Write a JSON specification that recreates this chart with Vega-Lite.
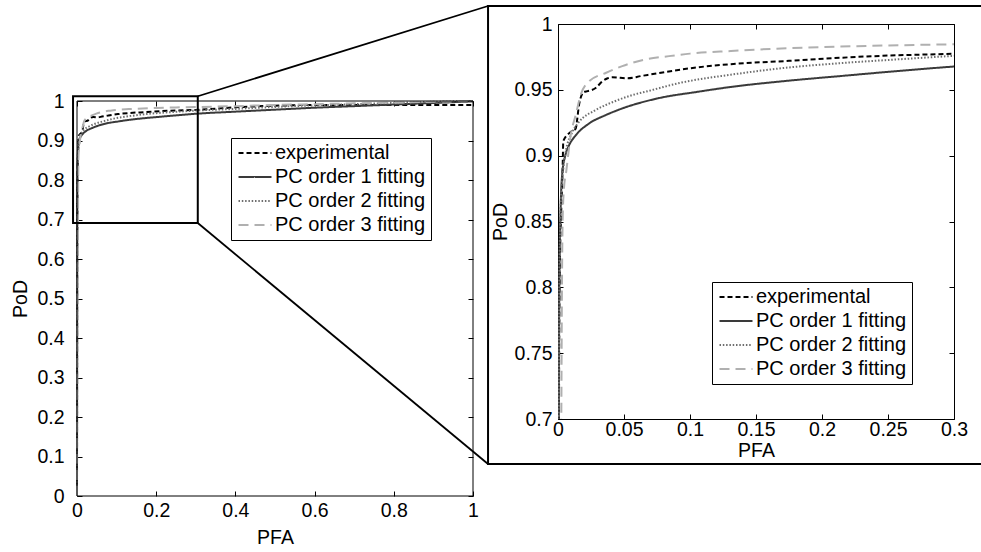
{
  "$schema": "https://vega.github.io/schema/vega-lite/v6.json",
  "background": "white",
  "padding": {"left": 10, "top": 4, "right": 0, "bottom": 0},
  "config": {
    "font": "Liberation Sans",
    "view": {"stroke": "black", "strokeWidth": 1},
    "axis": {
      "grid": false, "domain": false, "ticks": true, "tickColor": "black", "tickSize": -5, "tickWidth": 1,
      "labelColor": "black", "labelFontSize": 19.5, "labelFont": "Liberation Sans",
      "titleColor": "black", "titleFontSize": 19.5, "titleFont": "Liberation Sans", "titleFontWeight": "normal",
      "labelFlush": false, "labelOverlap": false
    },
    "legend": {
      "strokeColor": "black", "fillColor": "white", "padding": 5,
      "labelFontSize": 20, "labelFont": "Liberation Sans", "labelColor": "black",
      "symbolType": "M-2,0H2", "symbolSize": 272, "symbolStrokeWidth": 2,
      "rowPadding": 4, "labelOffset": 10, "symbolOffset": 9
    }
  },
  "datasets": {
    "roc": [
      {"series": "experimental", "PFA": 0, "PoD": 0},
      {"series": "experimental", "PFA": 0.0005, "PoD": 0.6},
      {"series": "experimental", "PFA": 0.0012, "PoD": 0.8},
      {"series": "experimental", "PFA": 0.0025, "PoD": 0.86},
      {"series": "experimental", "PFA": 0.0035, "PoD": 0.89},
      {"series": "experimental", "PFA": 0.004, "PoD": 0.911},
      {"series": "experimental", "PFA": 0.0096, "PoD": 0.918},
      {"series": "experimental", "PFA": 0.0134, "PoD": 0.9205},
      {"series": "experimental", "PFA": 0.0146, "PoD": 0.928},
      {"series": "experimental", "PFA": 0.0159, "PoD": 0.9385},
      {"series": "experimental", "PFA": 0.0197, "PoD": 0.9485},
      {"series": "experimental", "PFA": 0.0225, "PoD": 0.949},
      {"series": "experimental", "PFA": 0.0288, "PoD": 0.9516},
      {"series": "experimental", "PFA": 0.0336, "PoD": 0.9565},
      {"series": "experimental", "PFA": 0.0376, "PoD": 0.9588},
      {"series": "experimental", "PFA": 0.0412, "PoD": 0.9595},
      {"series": "experimental", "PFA": 0.0528, "PoD": 0.9588},
      {"series": "experimental", "PFA": 0.063, "PoD": 0.9605},
      {"series": "experimental", "PFA": 0.078, "PoD": 0.963},
      {"series": "experimental", "PFA": 0.1033, "PoD": 0.9668},
      {"series": "experimental", "PFA": 0.131, "PoD": 0.9695},
      {"series": "experimental", "PFA": 0.175, "PoD": 0.972},
      {"series": "experimental", "PFA": 0.2144, "PoD": 0.9744},
      {"series": "experimental", "PFA": 0.25, "PoD": 0.976},
      {"series": "experimental", "PFA": 0.3, "PoD": 0.9775},
      {"series": "experimental", "PFA": 0.4, "PoD": 0.984},
      {"series": "experimental", "PFA": 0.5, "PoD": 0.988},
      {"series": "experimental", "PFA": 0.6, "PoD": 0.99},
      {"series": "experimental", "PFA": 0.8, "PoD": 0.99},
      {"series": "experimental", "PFA": 1, "PoD": 0.99},

      {"series": "PC order 1 fitting", "PFA": 0, "PoD": 0},
      {"series": "PC order 1 fitting", "PFA": 0.0005, "PoD": 0.6},
      {"series": "PC order 1 fitting", "PFA": 0.001, "PoD": 0.8},
      {"series": "PC order 1 fitting", "PFA": 0.002, "PoD": 0.86},
      {"series": "PC order 1 fitting", "PFA": 0.0033, "PoD": 0.8872},
      {"series": "PC order 1 fitting", "PFA": 0.0055, "PoD": 0.9},
      {"series": "PC order 1 fitting", "PFA": 0.0083, "PoD": 0.9077},
      {"series": "PC order 1 fitting", "PFA": 0.0134, "PoD": 0.9154},
      {"series": "PC order 1 fitting", "PFA": 0.0235, "PoD": 0.9244},
      {"series": "PC order 1 fitting", "PFA": 0.0361, "PoD": 0.9308},
      {"series": "PC order 1 fitting", "PFA": 0.0477, "PoD": 0.9355},
      {"series": "PC order 1 fitting", "PFA": 0.0755, "PoD": 0.9435},
      {"series": "PC order 1 fitting", "PFA": 0.1058, "PoD": 0.9485},
      {"series": "PC order 1 fitting", "PFA": 0.131, "PoD": 0.9522},
      {"series": "PC order 1 fitting", "PFA": 0.17, "PoD": 0.9565},
      {"series": "PC order 1 fitting", "PFA": 0.2144, "PoD": 0.9605},
      {"series": "PC order 1 fitting", "PFA": 0.26, "PoD": 0.9645},
      {"series": "PC order 1 fitting", "PFA": 0.3, "PoD": 0.9677},
      {"series": "PC order 1 fitting", "PFA": 0.4, "PoD": 0.973},
      {"series": "PC order 1 fitting", "PFA": 0.5, "PoD": 0.978},
      {"series": "PC order 1 fitting", "PFA": 0.6, "PoD": 0.983},
      {"series": "PC order 1 fitting", "PFA": 0.7, "PoD": 0.987},
      {"series": "PC order 1 fitting", "PFA": 0.8, "PoD": 0.991},
      {"series": "PC order 1 fitting", "PFA": 0.9, "PoD": 0.995},
      {"series": "PC order 1 fitting", "PFA": 1, "PoD": 0.999},

      {"series": "PC order 2 fitting", "PFA": 0, "PoD": 0},
      {"series": "PC order 2 fitting", "PFA": 0.0005, "PoD": 0.6},
      {"series": "PC order 2 fitting", "PFA": 0.001, "PoD": 0.8},
      {"series": "PC order 2 fitting", "PFA": 0.002, "PoD": 0.86},
      {"series": "PC order 2 fitting", "PFA": 0.004, "PoD": 0.89},
      {"series": "PC order 2 fitting", "PFA": 0.0058, "PoD": 0.9026},
      {"series": "PC order 2 fitting", "PFA": 0.0109, "PoD": 0.918},
      {"series": "PC order 2 fitting", "PFA": 0.0159, "PoD": 0.9256},
      {"series": "PC order 2 fitting", "PFA": 0.0285, "PoD": 0.9346},
      {"series": "PC order 2 fitting", "PFA": 0.0427, "PoD": 0.9412},
      {"series": "PC order 2 fitting", "PFA": 0.0563, "PoD": 0.946},
      {"series": "PC order 2 fitting", "PFA": 0.068, "PoD": 0.949},
      {"series": "PC order 2 fitting", "PFA": 0.093, "PoD": 0.9554},
      {"series": "PC order 2 fitting", "PFA": 0.131, "PoD": 0.9615},
      {"series": "PC order 2 fitting", "PFA": 0.175, "PoD": 0.967},
      {"series": "PC order 2 fitting", "PFA": 0.2144, "PoD": 0.9703},
      {"series": "PC order 2 fitting", "PFA": 0.26, "PoD": 0.9733},
      {"series": "PC order 2 fitting", "PFA": 0.3, "PoD": 0.9758},
      {"series": "PC order 2 fitting", "PFA": 0.4, "PoD": 0.98},
      {"series": "PC order 2 fitting", "PFA": 0.5, "PoD": 0.985},
      {"series": "PC order 2 fitting", "PFA": 0.6, "PoD": 0.989},
      {"series": "PC order 2 fitting", "PFA": 0.7, "PoD": 0.992},
      {"series": "PC order 2 fitting", "PFA": 0.8, "PoD": 0.995},
      {"series": "PC order 2 fitting", "PFA": 0.9, "PoD": 0.998},
      {"series": "PC order 2 fitting", "PFA": 1, "PoD": 1.0},

      {"series": "PC order 3 fitting", "PFA": 0, "PoD": 0},
      {"series": "PC order 3 fitting", "PFA": 0.0012, "PoD": 0.5},
      {"series": "PC order 3 fitting", "PFA": 0.0025, "PoD": 0.7},
      {"series": "PC order 3 fitting", "PFA": 0.003, "PoD": 0.8},
      {"series": "PC order 3 fitting", "PFA": 0.0035, "PoD": 0.85},
      {"series": "PC order 3 fitting", "PFA": 0.0045, "PoD": 0.875},
      {"series": "PC order 3 fitting", "PFA": 0.0063, "PoD": 0.8885},
      {"series": "PC order 3 fitting", "PFA": 0.0096, "PoD": 0.9154},
      {"series": "PC order 3 fitting", "PFA": 0.0134, "PoD": 0.9308},
      {"series": "PC order 3 fitting", "PFA": 0.0172, "PoD": 0.9462},
      {"series": "PC order 3 fitting", "PFA": 0.0235, "PoD": 0.9564},
      {"series": "PC order 3 fitting", "PFA": 0.0361, "PoD": 0.9628},
      {"series": "PC order 3 fitting", "PFA": 0.0487, "PoD": 0.968},
      {"series": "PC order 3 fitting", "PFA": 0.0664, "PoD": 0.9731},
      {"series": "PC order 3 fitting", "PFA": 0.0841, "PoD": 0.9756},
      {"series": "PC order 3 fitting", "PFA": 0.1, "PoD": 0.9775},
      {"series": "PC order 3 fitting", "PFA": 0.131, "PoD": 0.9795},
      {"series": "PC order 3 fitting", "PFA": 0.2, "PoD": 0.9825},
      {"series": "PC order 3 fitting", "PFA": 0.25, "PoD": 0.9837},
      {"series": "PC order 3 fitting", "PFA": 0.3, "PoD": 0.9846},
      {"series": "PC order 3 fitting", "PFA": 0.4, "PoD": 0.987},
      {"series": "PC order 3 fitting", "PFA": 0.5, "PoD": 0.99},
      {"series": "PC order 3 fitting", "PFA": 0.6, "PoD": 0.992},
      {"series": "PC order 3 fitting", "PFA": 0.7, "PoD": 0.994},
      {"series": "PC order 3 fitting", "PFA": 0.8, "PoD": 0.996},
      {"series": "PC order 3 fitting", "PFA": 0.9, "PoD": 0.998},
      {"series": "PC order 3 fitting", "PFA": 1, "PoD": 1.0}
    ],
    "frame": [{"x1": 0, "x2": 1, "y1": 0, "y2": 1}],
    "zoombox": [{"x1": -0.01, "x2": 0.305, "y1": 0.691, "y2": 1.012}],
    "links": [
      {"x1": 0.305, "y1": 1.012, "x2": 1.038, "y2": 1.2405},
      {"x1": 0.305, "y1": 0.691, "x2": 1.038, "y2": 0.081}
    ],
    "outer": [{"x1": -0.053, "x2": 0.335, "y1": 0.6658, "y2": 1.0137}]
  },
  "bounds": "flush",
  "spacing": 85,
  "resolve": {"scale": {"color": "independent", "strokeDash": "independent"}},
  "hconcat": [
    {
      "width": 396,
      "height": 472,
      "view": {"stroke": null},
      "layer": [
        {
          "data": {"name": "roc"},
          "mark": {"type": "line", "strokeWidth": 2, "interpolate": "monotone"},
          "encoding": {
            "x": {"field": "PFA", "type": "quantitative",
              "scale": {"domain": [0, 1], "nice": false, "zero": false},
              "axis": {"orient": "bottom", "values": [0, 0.2, 0.4, 0.6, 0.8, 1], "format": "~g", "title": "PFA",
                "labelPadding": 10.6, "titleBaseline": "alphabetic", "titleY": 47}},
            "y": {"field": "PoD", "type": "quantitative",
              "scale": {"domain": [0, 1.194937], "nice": false, "zero": false},
              "axis": {"orient": "left", "values": [0, 0.1, 0.2, 0.3, 0.4, 0.5, 0.6, 0.7, 0.8, 0.9, 1], "format": "~g", "title": "PoD",
                "labelPadding": 18, "titleBaseline": "alphabetic", "titleX": -51, "titleY": 274.5}},
            "color": {"field": "series", "type": "nominal",
              "scale": {"domain": ["experimental", "PC order 1 fitting", "PC order 2 fitting", "PC order 3 fitting"],
                "range": ["#000000", "#3a3a3a", "#6e6e6e", "#b0b0b0"]},
              "legend": {"title": null, "orient": "none", "legendX": 154, "legendY": 114}},
            "strokeDash": {"field": "series", "type": "nominal",
              "scale": {"domain": ["experimental", "PC order 1 fitting", "PC order 2 fitting", "PC order 3 fitting"],
                "range": [[5, 3], [1, 0], [1.5, 1.8], [10, 6]]},
              "legend": {"title": null, "orient": "none", "legendX": 154, "legendY": 114}}
          }
        },
        {
          "data": {"name": "frame"},
          "mark": {"type": "rect", "fillOpacity": 0, "stroke": "black", "strokeWidth": 1},
          "encoding": {
            "x": {"field": "x1", "type": "quantitative",
              "scale": {"domain": [0, 1], "nice": false, "zero": false},
              "axis": {"orient": "top", "offset": -77, "values": [0, 0.2, 0.4, 0.6, 0.8, 1], "labels": false, "title": null}},
            "x2": {"field": "x2"},
            "y": {"field": "y1", "type": "quantitative",
              "scale": {"domain": [0, 1.194937], "nice": false, "zero": false},
              "axis": {"orient": "right", "values": [0, 0.1, 0.2, 0.3, 0.4, 0.5, 0.6, 0.7, 0.8, 0.9, 1], "labels": false, "title": null}},
            "y2": {"field": "y2"}
          }
        },
        {
          "data": {"name": "zoombox"},
          "mark": {"type": "rect", "fillOpacity": 0, "stroke": "black", "strokeWidth": 2},
          "encoding": {
            "x": {"field": "x1", "type": "quantitative", "scale": {"domain": [0, 1], "nice": false, "zero": false}, "axis": null},
            "x2": {"field": "x2"},
            "y": {"field": "y1", "type": "quantitative", "scale": {"domain": [0, 1.194937], "nice": false, "zero": false}, "axis": null},
            "y2": {"field": "y2"}
          }
        },
        {
          "data": {"name": "links"},
          "mark": {"type": "rule", "stroke": "black", "strokeWidth": 1.8},
          "encoding": {
            "x": {"field": "x1", "type": "quantitative", "scale": {"domain": [0, 1], "nice": false, "zero": false}, "axis": null},
            "x2": {"field": "x2"},
            "y": {"field": "y1", "type": "quantitative", "scale": {"domain": [0, 1.194937], "nice": false, "zero": false}, "axis": null},
            "y2": {"field": "y2"}
          }
        }
      ]
    },
    {
      "width": 396,
      "height": 395,
      "layer": [
        {
          "data": {"name": "roc"},
          "mark": {"type": "line", "strokeWidth": 2, "interpolate": "monotone", "clip": true},
          "encoding": {
            "x": {"field": "PFA", "type": "quantitative",
              "scale": {"domain": [0, 0.3], "nice": false, "zero": false},
              "axis": {"orient": "bottom", "values": [0, 0.05, 0.1, 0.15, 0.2, 0.25, 0.3], "format": "~g", "title": "PFA",
                "labelPadding": 6.6, "titleBaseline": "alphabetic", "titleY": 37}},
            "y": {"field": "PoD", "type": "quantitative",
              "scale": {"domain": [0.7, 1], "nice": false, "zero": false},
              "axis": {"orient": "left", "values": [0.7, 0.75, 0.8, 0.85, 0.9, 0.95, 1], "format": "~g", "title": "PoD",
                "labelPadding": 11, "titleBaseline": "alphabetic", "titleX": -52}},
            "color": {"field": "series", "type": "nominal",
              "scale": {"domain": ["experimental", "PC order 1 fitting", "PC order 2 fitting", "PC order 3 fitting"],
                "range": ["#000000", "#3a3a3a", "#6e6e6e", "#b0b0b0"]},
              "legend": {"title": null, "orient": "none", "legendX": 154, "legendY": 258}},
            "strokeDash": {"field": "series", "type": "nominal",
              "scale": {"domain": ["experimental", "PC order 1 fitting", "PC order 2 fitting", "PC order 3 fitting"],
                "range": [[5, 3], [1, 0], [1.5, 1.8], [10, 6]]},
              "legend": {"title": null, "orient": "none", "legendX": 154, "legendY": 258}}
          }
        },
        {
          "data": {"name": "outer"},
          "mark": {"type": "rect", "fillOpacity": 0, "stroke": "black", "strokeWidth": 2},
          "encoding": {
            "x": {"field": "x1", "type": "quantitative",
              "scale": {"domain": [0, 0.3], "nice": false, "zero": false},
              "axis": {"orient": "top", "values": [0, 0.05, 0.1, 0.15, 0.2, 0.25, 0.3], "labels": false, "title": null}},
            "x2": {"field": "x2"},
            "y": {"field": "y1", "type": "quantitative",
              "scale": {"domain": [0.7, 1], "nice": false, "zero": false},
              "axis": {"orient": "right", "values": [0.7, 0.75, 0.8, 0.85, 0.9, 0.95, 1], "labels": false, "title": null}},
            "y2": {"field": "y2"}
          }
        }
      ]
    }
  ]
}
